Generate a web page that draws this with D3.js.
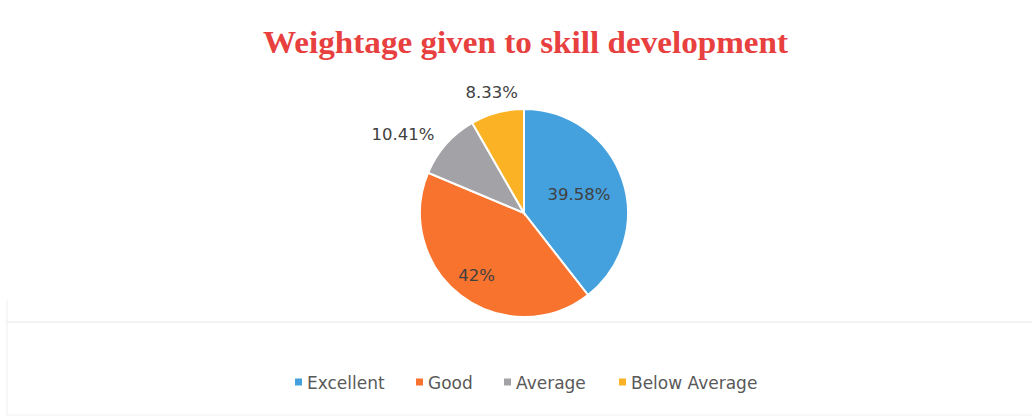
<!DOCTYPE html>
<html>
<head>
<meta charset="utf-8">
<script src="https://cdn.jsdelivr.net/npm/d3@7"></script>
<style>
  body { margin: 0; background: #fff; }
  svg { display: block; }
</style>
</head>
<body>
<div id="chart"></div>
<script>
// chart data
var categories = ["Excellent", "Good", "Average", "Below Average"];
var values = [39.58, 42, 10.41, 8.33];
var labels = ["39.58%", "42%", "10.41%", "8.33%"];
var colors = ["#45a1de", "#f8732e", "#a3a2a6", "#fbb224"];

// layout
var width = 1032, height = 419;
var cx = 524, cy = 213, radius = 104;
var labelRadius = [0.56, 0.75, 1.15, 1.2];
var legendX = [295, 416, 504, 619];

var svg = d3.select("#chart").append("svg")
    .attr("width", width)
    .attr("height", height);

// faint scan lines of the frame
svg.append("line")
    .attr("x1", 6).attr("x2", width).attr("y1", 322).attr("y2", 322)
    .style("stroke", "#e6e6e6").style("stroke-width", 1);
svg.append("line")
    .attr("x1", 6).attr("x2", width).attr("y1", 415).attr("y2", 415)
    .style("stroke", "#efefef").style("stroke-width", 1);
svg.append("line")
    .attr("x1", 7).attr("x2", 7).attr("y1", 300).attr("y2", 415)
    .style("stroke", "#efefef").style("stroke-width", 1);

// title
svg.append("text")
    .attr("x", 525.5)
    .attr("y", 53)
    .attr("text-anchor", "middle")
    .attr("textLength", 525)
    .attr("lengthAdjust", "spacingAndGlyphs")
    .style("font-family", "'Liberation Serif', 'Times New Roman', serif")
    .style("font-weight", "bold")
    .style("font-size", "31px")
    .style("fill", "#e8403f")
    .text("Weightage given to skill development");

// pie
var pie = d3.pie().sort(null).value(function(d){return d;});
var arcs = pie(values);
var arc = d3.arc().innerRadius(0).outerRadius(radius);

var g = svg.append("g").attr("transform", "translate(" + cx + "," + cy + ")");

g.selectAll("path")
    .data(arcs)
    .enter()
    .append("path")
    .attr("d", arc)
    .style("fill", function(d, i){return colors[i];})
    .style("stroke", "#fff")
    .style("stroke-width", 2);

// data labels
function labelPoint(d, i){
    var r = radius * labelRadius[i];
    return d3.arc().innerRadius(r).outerRadius(r).centroid(d);
}

g.selectAll("text.lbl")
    .data(arcs)
    .enter()
    .append("text")
    .attr("class", "lbl")
    .attr("transform", function(d, i){
        var p = labelPoint(d, i);
        return "translate(" + p[0] + "," + p[1] + ")";
    })
    .attr("text-anchor", function(d, i){
        var mid = (d.startAngle + d.endAngle) / 2;
        return (labelRadius[i] > 1 && Math.sin(mid) < -0.5) ? "end" : "middle";
    })
    .attr("dy", "0.35em")
    .style("font-family", "'DejaVu Sans', sans-serif")
    .style("font-size", "16.5px")
    .style("fill", "#404040")
    .text(function(d, i){return labels[i];});

// legend
var legend = svg.append("g").attr("transform", "translate(0,382)");
var items = legend.selectAll("g")
    .data(categories)
    .enter()
    .append("g")
    .attr("transform", function(d, i){return "translate(" + legendX[i] + ",0)";});

items.append("rect")
    .attr("x", 0).attr("y", -3.5)
    .attr("width", 7).attr("height", 7)
    .style("fill", function(d, i){return colors[i];});

items.append("text")
    .attr("x", 12)
    .attr("y", 7)
    .style("font-family", "'DejaVu Sans', sans-serif")
    .style("font-size", "17px")
    .style("fill", "#595959")
    .text(function(d){return d;});
</script>
</body>
</html>
